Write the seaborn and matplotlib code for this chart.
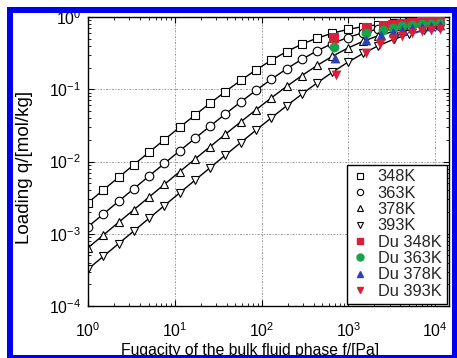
import numpy as np
import pandas as pd
import matplotlib
matplotlib.use("Agg")
import matplotlib.pyplot as plt
from matplotlib.lines import Line2D
from matplotlib.patches import Rectangle
from matplotlib.ticker import LogLocator, NullFormatter
import seaborn as sns

# ---------------- data ----------------
fugacity = [1.0, 1.5, 2.25, 3.38, 5.06, 7.59, 11.4, 17.1, 25.6, 38.4, 57.7, 86.5,
            130, 195, 292, 438, 657, 985, 1478, 2217, 3325, 4988, 7482, 11223]

q_348 = [0.00269, 0.00403, 0.00603, 0.00903, 0.01346, 0.02004, 0.02976, 0.04392,
         0.0642, 0.0930, 0.1328, 0.1854, 0.2525, 0.3322, 0.4203, 0.5111, 0.5971,
         0.6725, 0.7344, 0.7824, 0.8180, 0.8436, 0.8616, 0.874]
q_363 = [0.00125, 0.00187, 0.00281, 0.00421, 0.00629, 0.0094, 0.01404, 0.0209,
         0.0309, 0.0456, 0.0668, 0.0966, 0.1377, 0.1920, 0.2598, 0.3406, 0.4296,
         0.5201, 0.6053, 0.6795, 0.740, 0.7866, 0.821, 0.8458]
q_378 = [0.00064, 0.000958, 0.001436, 0.002155, 0.003222, 0.004824, 0.007226,
         0.010795, 0.01607, 0.02388, 0.03542, 0.05208, 0.07605, 0.1095, 0.1546,
         0.2135, 0.2863, 0.3704, 0.4608, 0.5503, 0.6322, 0.7018, 0.7574, 0.7996]
q_393 = [0.000324, 0.000486, 0.000728, 0.001094, 0.001637, 0.002452, 0.003679,
         0.005506, 0.008219, 0.01227, 0.01831, 0.02718, 0.04024, 0.05904, 0.0856,
         0.1226, 0.1722, 0.2356, 0.3126, 0.3995, 0.4904, 0.5781, 0.6564, 0.7214]

du_f_348 = [680, 1650, 2600, 3300, 4200, 5500, 7000, 9000, 11500]
du_q_348 = [0.51, 0.70, 0.76, 0.78, 0.80, 0.82, 0.84, 0.86, 0.87]
du_f_363 = [680, 1600, 2500, 3300, 4200, 5500, 7000, 9000, 11500]
du_q_363 = [0.38, 0.60, 0.67, 0.71, 0.74, 0.77, 0.79, 0.81, 0.82]
du_f_378 = [700, 1600, 2400, 3300, 4200, 5500, 7000, 9000, 11500]
du_q_378 = [0.27, 0.48, 0.56, 0.62, 0.66, 0.70, 0.73, 0.76, 0.78]
du_f_393 = [720, 1600, 2300, 3300, 4200, 5500, 7000, 9000, 11500]
du_q_393 = [0.157, 0.32, 0.42, 0.50, 0.55, 0.60, 0.64, 0.67, 0.69]

sim_labels = ["348K", "363K", "378K", "393K"]
du_labels = ["Du 348K", "Du 363K", "Du 378K", "Du 393K"]

# ---------------- style ----------------
sns.set_theme(style="ticks")
plt.rcParams["font.family"] = ["Liberation Sans", "DejaVu Sans"]
plt.rcParams["mathtext.fontset"] = "custom"
plt.rcParams["mathtext.rm"] = "Liberation Sans"
plt.rcParams["mathtext.it"] = "Liberation Sans:italic"
plt.rcParams["mathtext.bf"] = "Liberation Sans:bold"

W, H = 457, 358
fig = plt.figure(figsize=(W / 100, H / 100), dpi=100)
ax = fig.add_axes([88 / W, 1 - 306 / H, (449 - 88) / W, (306 - 17) / H])

sim_markers = ["s", "o", "^", "v"]
sim_series = [q_348, q_363, q_378, q_393]
for q, m in zip(sim_series, sim_markers):
    sns.lineplot(x=fugacity, y=q, ax=ax, color="black", lw=1.0, marker=m,
                 markersize=6.2, markerfacecolor="white", markeredgecolor="black",
                 markeredgewidth=0.8, sort=False, estimator=None, legend=False)

du_colors = ["#d8203a", "#17a34a", "#2a43b0", "#d8203a"]
du_markers = ["s", "o", "^", "v"]
du_f = [du_f_348, du_f_363, du_f_378, du_f_393]
du_q = [du_q_348, du_q_363, du_q_378, du_q_393]
for f, q, c, m in zip(du_f, du_q, du_colors, du_markers):
    sns.scatterplot(x=f, y=q, ax=ax, color=c, marker=m, s=50, edgecolor=c,
                    linewidth=0, legend=False, zorder=5)

ax.set_xscale("log")
ax.set_yscale("log")
ax.set_xlim(1, 10 ** ((449 - 88) / 86.75))
ax.set_ylim(1e-4, 1)

ax.xaxis.set_major_locator(LogLocator(base=10, numticks=10))
ax.yaxis.set_major_locator(LogLocator(base=10, numticks=10))
ax.xaxis.set_minor_locator(LogLocator(base=10, subs=np.arange(2, 10), numticks=20))
ax.yaxis.set_minor_locator(LogLocator(base=10, subs=np.arange(2, 10), numticks=20))
ax.xaxis.set_minor_formatter(NullFormatter())
ax.yaxis.set_minor_formatter(NullFormatter())

ax.tick_params(which="both", direction="in", top=True, right=True, colors="black",
               labelsize=11.3)
ax.tick_params(which="major", length=4, width=0.8)
ax.tick_params(which="minor", length=2, width=0.6)
ax.tick_params(axis="x", which="major", pad=11)
ax.tick_params(axis="y", which="major", pad=5)

ax.grid(True, which="major", color="0.6", linestyle=(0, (2, 1.5, 1, 1.5)), lw=0.7)
for s in ax.spines.values():
    s.set_color("black")
    s.set_linewidth(1.0)

ax.set_xlabel("Fugacity of the bulk fluid phase f/[Pa]", fontsize=11.3, color="black")
ax.set_ylabel("Loading q/[mol/kg]", fontsize=13.5, color="black")
ax.xaxis.set_label_coords((250 - 88) / (449 - 88), -(343 - 306) / (306 - 17))
ax.yaxis.set_label_coords((33 - 88) / (449 - 88), 0.48)

handles = []
for m, lab in zip(sim_markers, sim_labels):
    handles.append(Line2D([], [], linestyle="none", marker=m, markersize=4.5,
                          markerfacecolor="white", markeredgecolor="black",
                          markeredgewidth=0.8, label=lab))
for m, c, lab in zip(du_markers, du_colors, du_labels):
    handles.append(Line2D([], [], linestyle="none", marker=m, markersize=5,
                          markerfacecolor=c, markeredgecolor=c, label=lab))
leg = ax.legend(handles=handles, loc="lower right", fontsize=11.8, frameon=True,
                fancybox=False, edgecolor="black", framealpha=1,
                borderaxespad=0.15, handlelength=1.0, handletextpad=0.6,
                labelspacing=0.08, borderpad=0.3)
leg.get_frame().set_linewidth(1.0)
leg.set_zorder(10)

# blue frame around the figure
blue = "#0000f0"
def px_rect(x0, y0, x1, y1):
    # pixel coords with top-left origin
    fig.patches.append(Rectangle((x0 / W, 1 - y1 / H), (x1 - x0) / W, (y1 - y0) / H,
                                 transform=fig.transFigure, facecolor=blue,
                                 edgecolor="none", zorder=100))
px_rect(7, 7, 12.5, H)
px_rect(7, 7, W, 12.5)
px_rect(451.5, 7, W, H)
px_rect(7, 355, W, H)

fig.savefig("out.png", dpi=100)
